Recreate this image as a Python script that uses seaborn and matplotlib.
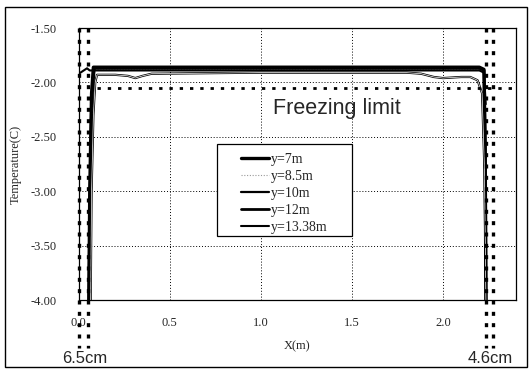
import matplotlib
matplotlib.use("Agg")
import matplotlib.pyplot as plt
import seaborn as sns
from matplotlib.ticker import MultipleLocator, FormatStrFormatter
from matplotlib.patches import Rectangle

# temperature profiles across the channel
x_7m = [0.055, 0.06, 0.07, 0.08, 0.5, 1.0, 1.5, 2.0, 2.2, 2.225, 2.232, 2.236]
t_7m = [-4.00, -3.00, -2.10, -1.86, -1.86, -1.86, -1.86, -1.86, -1.86, -1.88, -2.60, -4.00]

x_85m = [0.06, 0.065, 0.075, 0.09, 0.5, 1.0, 1.5, 2.0, 2.2, 2.225, 2.232, 2.238]
t_85m = [-4.00, -3.00, -2.10, -1.88, -1.88, -1.88, -1.88, -1.88, -1.88, -1.90, -2.60, -4.00]

x_10m = [0.065, 0.07, 0.08, 0.09, 0.1, 0.2, 0.27, 0.31, 0.35, 0.4, 1.0, 1.8, 1.88, 1.95,
         2.0, 2.1, 2.15, 2.19, 2.215, 2.228, 2.236]
t_10m = [-4.00, -3.00, -2.30, -2.00, -1.93, -1.93, -1.94, -1.96, -1.94, -1.92, -1.91, -1.91,
         -1.92, -1.95, -1.96, -1.95, -1.95, -1.98, -2.10, -2.80, -4.00]

x_12m = [0.055, 0.06, 0.07, 0.085, 0.5, 1.0, 1.5, 2.0, 2.2, 2.226, 2.233, 2.237]
t_12m = [-4.00, -3.20, -2.20, -1.87, -1.87, -1.87, -1.87, -1.87, -1.87, -1.89, -2.70, -4.00]

x_1338m = [0.0, 0.045, 0.06, 0.5, 1.0, 1.5, 2.0, 2.2, 2.225, 2.235]
t_1338m = [-1.92, -1.87, -1.89, -1.89, -1.89, -1.89, -1.89, -1.89, -1.91, -2.20]

labels = ["y=7m", "y=8.5m", "y=10m", "y=12m", "y=13.38m"]

freezing_limit = -2.05
wall_lines = [0.0, 0.05, 2.237, 2.276]

sns.set_style("white")
plt.rcParams["font.family"] = ["Liberation Serif", "DejaVu Serif"]

fig = plt.figure(figsize=(5.29, 3.71), dpi=100)
ax = fig.add_axes([0.149, 0.191, 0.826, 0.7335])

series = [(x_7m, t_7m), (x_85m, t_85m), (x_10m, t_10m), (x_12m, t_12m), (x_1338m, t_1338m)]
styles = [
    dict(color="black", lw=2.4),
    dict(color="#999999", lw=0.8, ls=(0, (1, 1.5))),
    dict(color="black", lw=1.6),
    dict(color="black", lw=2.0),
    dict(color="black", lw=1.5),
]
for (xs, ts), lab, st in zip(series, labels, styles):
    sns.lineplot(x=xs, y=ts, ax=ax, sort=False, estimator=None, label=lab, **st)

# white core of the y=10m line
sns.lineplot(x=x_10m, y=t_10m, ax=ax, sort=False, estimator=None, color="white", lw=0.5,
             legend=False)

# freezing limit
ax.plot([0.1, 2.4], [freezing_limit, freezing_limit], color="black", lw=2,
        ls=(0, (1.2, 2.5)))
ax.text(1.42, -2.235, "Freezing limit", fontsize=15.5, family="Liberation Sans",
        ha="center", va="center")

# wall boundaries
for xv in wall_lines:
    ax.plot([xv, xv], [-1.5, -4.44], color="black", lw=2.4, ls=(0, (1.2, 2.2)),
            clip_on=False)
ax.text(0.03, -4.54, "6.5cm", fontsize=12, family="Liberation Sans", ha="center", va="center")
ax.text(2.26, -4.54, "4.6cm", fontsize=12, family="Liberation Sans", ha="center", va="center")

ax.set_xlim(0, 2.4)
ax.set_ylim(-4.0, -1.5)
ax.xaxis.set_major_locator(MultipleLocator(0.5))
ax.xaxis.set_minor_locator(MultipleLocator(0.1))
ax.yaxis.set_major_locator(MultipleLocator(0.5))
ax.xaxis.set_major_formatter(FormatStrFormatter("%.1f"))
ax.yaxis.set_major_formatter(FormatStrFormatter("%.2f"))
ax.tick_params(axis="x", which="both", direction="in", length=3, width=0.8, labelsize=9, pad=12)
ax.tick_params(axis="x", which="major", length=0)
ax.tick_params(axis="y", length=0, labelsize=9, pad=16)
ax.grid(True, which="major", color="black", lw=0.7, ls=(0, (1, 2)))
for sp in ax.spines.values():
    sp.set_color("black")
    sp.set_linewidth(0.9)

ax.set_xlabel("X(m)", fontsize=9, labelpad=8)
ax.set_ylabel("Temperature(C)", fontsize=9, labelpad=6)

# legend without its own frame, boxed separately to match the wide padding
leg = ax.legend(loc="upper left", bbox_to_anchor=(0.356, 0.566), fontsize=10, frameon=False,
                handlelength=2.0, handletextpad=0.1, labelspacing=0.28, borderpad=0)
ax.add_patch(Rectangle((0.316, 0.235), 0.309, 0.339, transform=ax.transAxes, fill=True,
                       facecolor="white", edgecolor="black", lw=0.9, zorder=4))
leg.set_zorder(5)

# outer frame
fig.patches.append(Rectangle((5 / 529, 4 / 371), 522 / 529, 360 / 371, transform=fig.transFigure,
                             fill=False, edgecolor="black", lw=1.0))

fig.savefig("out.png", dpi=100)
